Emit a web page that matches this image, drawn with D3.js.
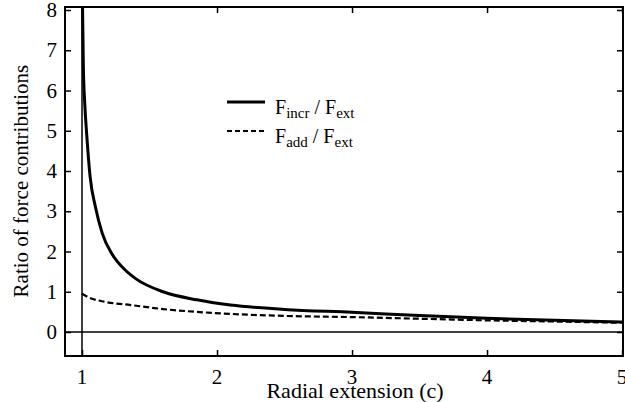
<!DOCTYPE html>
<html>
<head>
<meta charset="utf-8">
<script src="https://cdn.jsdelivr.net/npm/d3@7"></script>
<style>
body{margin:0;background:#fff;}
</style>
</head>
<body>
<svg id="chart" width="625" height="402"></svg>
<script>
// radial extension values and force ratios
var incrC=[1.003,1.01,1.02,1.035,1.06,1.1,1.15,1.22,1.32,1.4,1.6,1.85,2.1,2.5,3.0,3.5,4.0,4.5,5.0]
var incrRatio=[8.3,6.6,5.7,4.9,3.86,3.1,2.45,1.95,1.54,1.32,1.0,0.8,0.67,0.56,0.49,0.41,0.34,0.29,0.25]
var addC=[1.0,1.05,1.17,1.36,1.6,1.85,2.1,2.5,3.0,3.5,4.0,4.5,5.0]
var addRatio=[0.95,0.86,0.75,0.67,0.57,0.5,0.45,0.40,0.37,0.33,0.29,0.26,0.23]
var xTicks=[1,2,3,4,5]
var yTicks=[0,1,2,3,4,5,6,7,8]

var serif="'Liberation Serif','Times New Roman',Times,serif"
var svg=d3.select("#chart")
    .attr("font-family",serif)
var box={left:65,right:623,top:7,bottom:356}

var xScale=d3.scaleLinear()
    .domain([0.874,5.007])
    .range([box.left,box.right])
var yScale=d3.scaleLinear()
    .domain([-0.596,8.075])
    .range([box.bottom,box.top])

svg.append("clipPath").attr("id","clip")
    .append("rect")
    .attr("x",box.left).attr("y",box.top)
    .attr("width",box.right-box.left).attr("height",box.bottom-box.top)

//axes with inward ticks on all sides
svg.append("g")
    .attr("transform","translate(0,"+box.bottom+")")
    .call(d3.axisTop(xScale).tickValues(xTicks).tickSize(6).tickFormat(""))
svg.append("g")
    .attr("transform","translate(0,"+box.top+")")
    .call(d3.axisBottom(xScale).tickValues(xTicks).tickSize(6).tickFormat(""))
svg.append("g")
    .attr("transform","translate("+box.left+",0)")
    .call(d3.axisRight(yScale).tickValues(yTicks).tickSize(6).tickFormat(""))
svg.append("g")
    .attr("transform","translate("+box.right+",0)")
    .call(d3.axisLeft(yScale).tickValues(yTicks).tickSize(6).tickFormat(""))
svg.selectAll(".domain").remove()
svg.selectAll(".tick line").attr("stroke","#000").attr("stroke-width",1.5)

svg.append("rect")
    .attr("x",box.left).attr("y",box.top)
    .attr("width",box.right-box.left).attr("height",box.bottom-box.top)
    .attr("fill","none").attr("stroke","#000").attr("stroke-width",2)

//tick labels
svg.selectAll(".xlab")
    .data(xTicks)
    .enter()
    .append("text")
    .attr("x",function(d){return xScale(d)})
    .attr("y",384)
    .attr("text-anchor","middle")
    .attr("font-family",serif)
    .attr("font-size",21)
    .text(function(d){return d})
svg.selectAll(".ylab")
    .data(yTicks)
    .enter()
    .append("text")
    .attr("x",57)
    .attr("y",function(d){return yScale(d)+7})
    .attr("text-anchor","end")
    .attr("font-family",serif)
    .attr("font-size",21)
    .text(function(d){return d})

//reference lines at y=0 and c=1
svg.append("line")
    .attr("x1",box.left).attr("x2",box.right)
    .attr("y1",yScale(0)).attr("y2",yScale(0))
    .attr("stroke","#000").attr("stroke-width",1.5)
svg.append("line")
    .attr("x1",xScale(1)).attr("x2",xScale(1))
    .attr("y1",box.top).attr("y2",box.bottom)
    .attr("stroke","#000").attr("stroke-width",1.5)

var line=d3.line()
    .x(function(d){return xScale(d[0])})
    .y(function(d){return yScale(d[1])})
    .curve(d3.curveMonotoneX)

svg.append("path")
    .datum(d3.zip(incrC,incrRatio))
    .attr("clip-path","url(#clip)")
    .attr("d",line)
    .attr("fill","none").attr("stroke","#000").attr("stroke-width",3)
svg.append("path")
    .datum(d3.zip(addC,addRatio))
    .attr("clip-path","url(#clip)")
    .attr("d",line)
    .attr("fill","none").attr("stroke","#000").attr("stroke-width",2.2)
    .attr("stroke-dasharray","6,3")

//axis titles
svg.append("text")
    .attr("x",(xScale(1)+xScale(5))/2+3)
    .attr("y",398)
    .attr("text-anchor","middle")
    .attr("font-family",serif)
    .attr("font-size",22)
    .text("Radial extension (c)")
svg.append("text")
    .attr("transform","translate(28,"+yScale(3.75)+") rotate(-90)")
    .attr("text-anchor","middle")
    .attr("font-family",serif)
    .attr("font-size",21)
    .text("Ratio of force contributions")

//legend
var legend=[{name:"incr",y:102,dash:null,w:3},{name:"add",y:131,dash:"5,3",w:2}]
legend.forEach(function(item)
{
    svg.append("line")
        .attr("x1",227).attr("x2",265)
        .attr("y1",item.y).attr("y2",item.y)
        .attr("stroke","#000").attr("stroke-width",item.w)
        .attr("stroke-dasharray",item.dash)
    var t=svg.append("text")
        .attr("x",275).attr("y",item.y+12)
        .attr("font-family",serif)
        .attr("font-size",20)
    t.append("tspan").text("F")
    t.append("tspan").attr("dy",4).attr("font-size",15).text(item.name)
    t.append("tspan").attr("dy",-4).text(" / F")
    t.append("tspan").attr("dy",4).attr("font-size",15).text("ext")
})
</script>
</body>
</html>
